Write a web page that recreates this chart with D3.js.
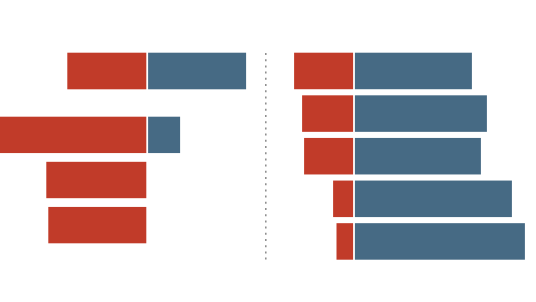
<!DOCTYPE html>
<html>
<head>
<meta charset="utf-8">
<script src="https://cdn.jsdelivr.net/npm/d3@7"></script>
<style>
  body { margin: 0; background: #fff; }
  svg { display: block; }
</style>
</head>
<body>
<div id="chart"></div>
<script>
// left panel: top block has one row, lower block three rows
var leftTopCats = ["a1"];
var leftTopNeg = [39.5];
var leftTopPos = [49];
var leftBotCats = ["b1", "b2", "b3"];
var leftBotNeg = [74, 50, 49];
var leftBotPos = [16, 0, 0];

// right panel
var rightCats = ["r1", "r2", "r3", "r4", "r5"];
var rightNeg = [29.5, 25.5, 24.5, 10, 8.3];
var rightPos = [58.5, 66, 63, 78.5, 85];

var svgWidth = 536, svgHeight = 302;
var red = "#c13b29", blue = "#466a84";

var svg = d3.select("#chart").append("svg")
    .attr("width", svgWidth)
    .attr("height", svgHeight);

// 2px per unit, same on both panels
var k = d3.scaleLinear().domain([0, 100]).range([0, 200]);
var leftCenter = 147.2, rightCenter = 354;

function drawBlock(cats, neg, pos, yRange, pad, center) {
    var y = d3.scaleBand()
        .domain(cats)
        .range(yRange)
        .paddingInner(pad)
        .paddingOuter(0);

    var rows = cats.map(function(c, i) {
        return { cat: c, neg: neg[i], pos: pos[i] };
    });

    var g = svg.append("g");

    g.selectAll("rect.neg")
        .data(rows.filter(function(d) { return d.neg > 0; }))
        .enter().append("rect")
        .attr("class", "neg")
        .attr("x", function(d) { return center - 0.9 - k(d.neg); })
        .attr("y", function(d) { return y(d.cat); })
        .attr("width", function(d) { return k(d.neg); })
        .attr("height", y.bandwidth())
        .attr("fill", red);

    g.selectAll("rect.pos")
        .data(rows.filter(function(d) { return d.pos > 0; }))
        .enter().append("rect")
        .attr("class", "pos")
        .attr("x", center + 0.9)
        .attr("y", function(d) { return y(d.cat); })
        .attr("width", function(d) { return k(d.pos); })
        .attr("height", y.bandwidth())
        .attr("fill", blue);
}

drawBlock(leftTopCats, leftTopNeg, leftTopPos, [52.7, 89.3], 0, leftCenter);
drawBlock(leftBotCats, leftBotNeg, leftBotPos, [116.7, 243.3], 0.194, leftCenter);
drawBlock(rightCats, rightNeg, rightPos, [52.7, 259.7], 0.143, rightCenter);

// dotted divider
svg.append("line")
    .attr("x1", 265.8).attr("x2", 265.8)
    .attr("y1", 53).attr("y2", 262)
    .attr("stroke", "#8a8a8a")
    .attr("stroke-width", 1.5)
    .attr("stroke-dasharray", "2,4.2");
</script>
</body>
</html>
